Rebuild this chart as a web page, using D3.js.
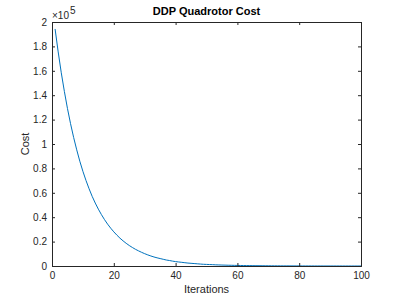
<!DOCTYPE html>
<html>
<head>
<meta charset="utf-8">
<script src="https://cdn.jsdelivr.net/npm/d3@7"></script>
<style>
  body { margin: 0; background: #fff; }
  svg { display: block; font-family: "Liberation Sans", Arial, sans-serif; }
</style>
</head>
<body>
<svg id="chart" width="399" height="299"></svg>
<script>
// cost per iteration, in units of 1e5
const costE5 = [
  1.943, 1.755, 1.584, 1.431, 1.292, 1.167, 1.054, 0.952, 0.859, 0.776,
  0.701, 0.633, 0.571, 0.516, 0.466, 0.421, 0.380, 0.343, 0.310, 0.280,
  0.253, 0.228, 0.206, 0.186, 0.168, 0.152, 0.137, 0.124, 0.112, 0.101,
  0.091, 0.082, 0.074, 0.067, 0.061, 0.055, 0.049, 0.045, 0.040, 0.036,
  0.033, 0.030, 0.027, 0.024, 0.022, 0.020, 0.018, 0.016, 0.014, 0.013,
  0.012, 0.011, 0.0096, 0.0087, 0.0078, 0.0071, 0.0064, 0.0058, 0.0052, 0.0047,
  0.0042, 0.0038, 0.0034, 0.0031, 0.0028, 0.0025, 0.0023, 0.0021, 0.0019, 0.0017,
  0.0015, 0.0014, 0.0012, 0.0011, 0.0010, 0.0009, 0.0008, 0.0007, 0.00065, 0.0006,
  0.0005, 0.0005, 0.0004, 0.0004, 0.00035, 0.0003, 0.0003, 0.00025, 0.0002, 0.0002,
  0.0002, 0.00015, 0.00015, 0.0001, 0.0001, 0.0001, 0.0001, 0.0001, 0.0001, 0.0001
];
const iterations = costE5.map((d, i) => i + 1);
const xTicks = [0, 20, 40, 60, 80, 100];
const yTicks = [0, 0.2, 0.4, 0.6, 0.8, 1, 1.2, 1.4, 1.6, 1.8, 2];

const margin = { top: 22, right: 38, bottom: 33, left: 52 };
const width = 399, height = 299;
const axisColor = "#262626";

const svg = d3.select("#chart");

const x = d3.scaleLinear().domain([0, 100]).range([margin.left, width - margin.right]);
const y = d3.scaleLinear().domain([0, 2]).range([height - margin.bottom, margin.top]);

// curve
const line = d3.line()
  .x((d, i) => x(iterations[i]))
  .y(d => y(d));

svg.append("path")
  .datum(costE5)
  .attr("fill", "none")
  .attr("stroke", "#0072BD")
  .attr("stroke-width", 1)
  .attr("d", line);

// axes (ticks inside, mirrored on top/right like matlab box)
const fmt = d => d3.format("")(+d.toFixed(1));

svg.append("g")
  .attr("transform", `translate(0,${height - margin.bottom})`)
  .call(d3.axisBottom(x).tickValues(xTicks).tickSize(-3).tickPadding(6).tickFormat(fmt));

svg.append("g")
  .attr("transform", `translate(${margin.left},0)`)
  .call(d3.axisLeft(y).tickValues(yTicks).tickSize(-3).tickPadding(5).tickFormat(fmt));

svg.append("g")
  .attr("transform", `translate(0,${margin.top})`)
  .call(d3.axisTop(x).tickValues(xTicks).tickSize(-3).tickFormat(""));

svg.append("g")
  .attr("transform", `translate(${width - margin.right},0)`)
  .call(d3.axisRight(y).tickValues(yTicks).tickSize(-3).tickFormat(""));

svg.selectAll(".domain").attr("stroke", axisColor).attr("stroke-width", 1);
svg.selectAll(".tick line").attr("stroke", axisColor);
svg.selectAll(".tick text")
  .attr("fill", axisColor)
  .style("font-size", "10px");

// exponent label
const expo = svg.append("text")
  .attr("x", margin.left)
  .attr("y", margin.top - 3)
  .attr("fill", axisColor)
  .style("font-size", "10px");
expo.append("tspan").text("\u00d710");
expo.append("tspan").attr("dy", -5).attr("dx", 1).style("font-size", "10px").text("5");

// title and labels
svg.append("text")
  .attr("x", (margin.left + width - margin.right) / 2)
  .attr("y", 15)
  .attr("text-anchor", "middle")
  .attr("font-weight", "bold")
  .style("font-size", "11px")
  .attr("fill", "#000")
  .text("DDP Quadrotor Cost");

svg.append("text")
  .attr("x", (margin.left + width - margin.right) / 2)
  .attr("y", 293)
  .attr("text-anchor", "middle")
  .style("font-size", "11px")
  .attr("fill", axisColor)
  .text("Iterations");

svg.append("text")
  .attr("transform", `translate(29,${(margin.top + height - margin.bottom) / 2}) rotate(-90)`)
  .attr("text-anchor", "middle")
  .style("font-size", "11px")
  .attr("fill", axisColor)
  .text("Cost");
</script>
</body>
</html>
